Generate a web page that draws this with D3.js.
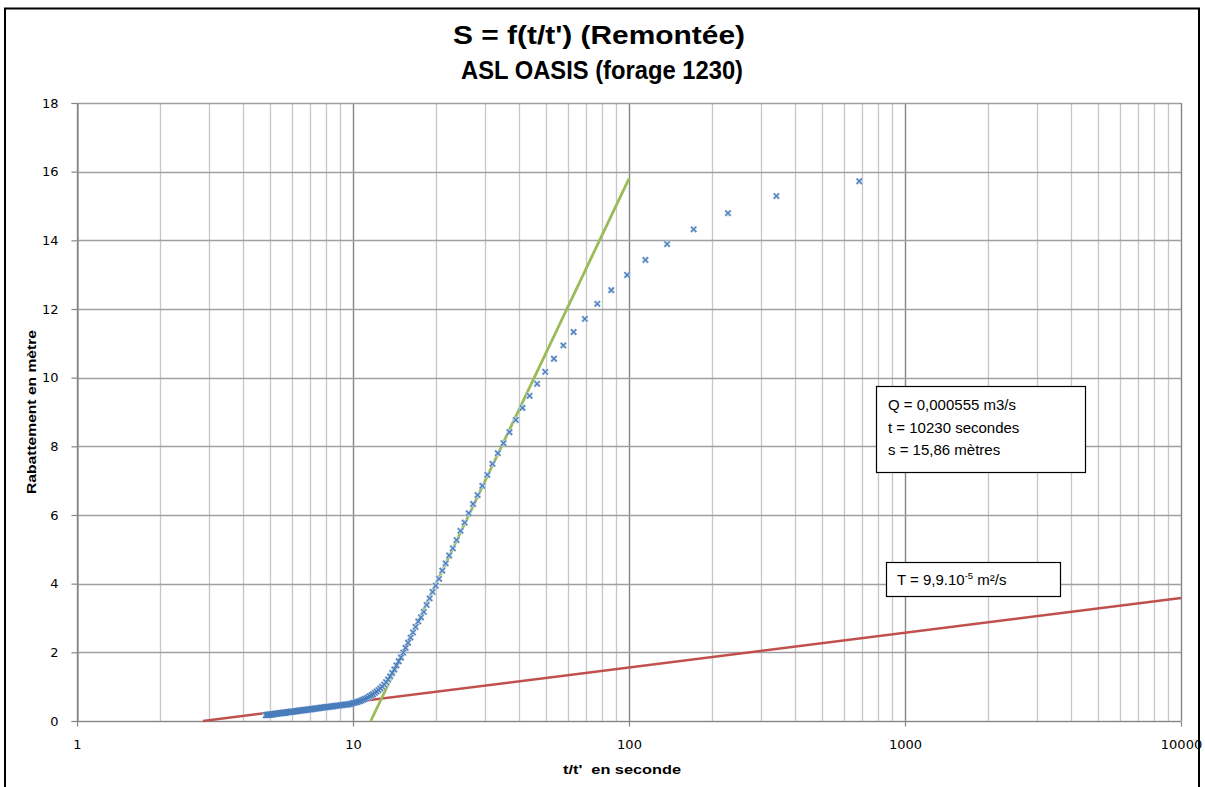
<!DOCTYPE html>
<html>
<head>
<meta charset="utf-8">
<script src="https://cdn.jsdelivr.net/npm/d3@7"></script>
<style>
  html, body { margin: 0; padding: 0; background: #fff; }
  svg { display: block; }
</style>
</head>
<body>
<svg id="chart" width="1205" height="787"></svg>
<script>
// ---------------- DATA ----------------
const titleLines = ["S = f(t/t') (Remontée)", "ASL OASIS (forage 1230)"];
const xAxisTitle = "t/t'  en seconde";
const yAxisTitle = "Rabattement en mètre";
const xTickValues = [1, 10, 100, 1000, 10000];
const xTickLabels = ["1", "10", "100", "1000", "10000"];
const yTickValues = [0, 2, 4, 6, 8, 10, 12, 14, 16, 18];

// t/t' ratio (x) and drawdown s in metres (y)
const tRatio = [
  683.00, 342.00, 228.33, 171.50, 137.40, 114.67, 98.43, 86.25, 76.78, 69.20,
  63.00, 57.83, 53.46, 49.71, 46.47, 43.63, 41.12, 38.89, 36.89, 35.10,
  33.48, 32.00, 30.65, 29.42, 28.28, 27.23, 26.26, 25.36, 24.52, 23.73,
  23.00, 22.31, 21.67, 21.06, 20.49, 19.94, 19.43, 18.95, 18.49, 18.05,
  17.63, 17.24, 16.86, 16.50, 16.16, 15.83, 15.51, 15.21, 14.92, 14.64,
  14.37, 14.12, 13.87, 13.63, 13.40, 13.18, 12.96, 12.76, 12.56, 12.37,
  12.18, 12.00, 11.83, 11.66, 11.49, 11.33, 11.18, 11.03, 10.88, 10.74,
  10.61, 10.47, 10.34, 10.22, 10.09, 9.97, 9.86, 9.74, 9.63, 9.53,
  9.42, 9.32, 9.22, 9.12, 9.02, 8.93, 8.84, 8.75, 8.66, 8.58,
  8.49, 8.41, 8.33, 8.26, 8.18, 8.10, 8.03, 7.96, 7.89, 7.82,
  7.75, 7.69, 7.62, 7.56, 7.50, 7.43, 7.37, 7.31, 7.26, 7.20,
  7.14, 7.09, 7.04, 6.98, 6.93, 6.88, 6.83, 6.78, 6.73, 6.68,
  6.64, 6.59, 6.54, 6.50, 6.46, 6.41, 6.37, 6.33, 6.29, 6.25,
  6.21, 6.17, 6.13, 6.09, 6.05, 6.01, 5.98, 5.94, 5.91, 5.87,
  5.84, 5.80, 5.77, 5.74, 5.70, 5.67, 5.64, 5.61, 5.58, 5.55,
  5.52, 5.49, 5.46, 5.43, 5.40, 5.37, 5.34, 5.32, 5.29, 5.26,
  5.24, 5.21, 5.18, 5.16, 5.13, 5.11, 5.08, 5.06, 5.04, 5.01,
  4.99, 4.97, 4.94, 4.92, 4.90, 4.88, 4.85, 4.83
];
const rabattement = [
  15.72, 15.29, 14.79, 14.32, 13.89, 13.43, 12.99, 12.55, 12.15, 11.71,
  11.33, 10.94, 10.55, 10.17, 9.82, 9.47, 9.12, 8.77, 8.41, 8.09,
  7.80, 7.49, 7.17, 6.85, 6.58, 6.32, 6.05, 5.78, 5.54, 5.27,
  5.03, 4.82, 4.59, 4.38, 4.14, 3.94, 3.76, 3.57, 3.38, 3.18,
  3.02, 2.90, 2.74, 2.58, 2.43, 2.28, 2.13, 1.99, 1.85, 1.74,
  1.62, 1.50, 1.40, 1.30, 1.21, 1.13, 1.06, 1.00, 0.95, 0.90,
  0.86, 0.82, 0.78, 0.75, 0.72, 0.69, 0.66, 0.64, 0.62, 0.60,
  0.58, 0.57, 0.55, 0.54, 0.53, 0.52, 0.50, 0.49, 0.49, 0.48,
  0.48, 0.47, 0.47, 0.46, 0.46, 0.45, 0.45, 0.45, 0.44, 0.44,
  0.43, 0.43, 0.42, 0.42, 0.41, 0.41, 0.41, 0.40, 0.40, 0.39,
  0.39, 0.39, 0.38, 0.38, 0.37, 0.37, 0.37, 0.36, 0.36, 0.36,
  0.35, 0.35, 0.34, 0.34, 0.34, 0.33, 0.33, 0.33, 0.32, 0.32,
  0.32, 0.31, 0.31, 0.31, 0.30, 0.30, 0.30, 0.30, 0.29, 0.29,
  0.29, 0.28, 0.28, 0.28, 0.27, 0.27, 0.27, 0.27, 0.26, 0.26,
  0.26, 0.26, 0.25, 0.25, 0.25, 0.24, 0.24, 0.24, 0.24, 0.23,
  0.23, 0.23, 0.23, 0.22, 0.22, 0.22, 0.22, 0.22, 0.21, 0.21,
  0.21, 0.21, 0.20, 0.20, 0.20, 0.20, 0.19, 0.19, 0.19, 0.19,
  0.19, 0.18, 0.18, 0.18, 0.18, 0.18, 0.17, 0.17
];

// fitted straight lines (semi-log)
const greenFitX = [11.6, 100];
const greenFitS = [0, 15.8];
const redFitX = [2.86, 10000];
const redFitS = [0, 3.58];

const infoLines = ["Q = 0,000555 m3/s", "t = 10230 secondes", "s = 15,86 mètres"];
const transLabel = { main: "T = 9,9.10", exp: "-5", tail: " m²/s" };

// ---------------- DRAWING ----------------
const svg = d3.select("#chart");
const W = 1205, H = 787;
const plot = { left: 77, right: 1181, top: 103, bottom: 721 };

const x = d3.scaleLog().domain([1, 10000]).range([plot.left, plot.right]);
const y = d3.scaleLinear().domain([0, 18]).range([plot.bottom, plot.top]);

svg.append("rect").attr("width", W).attr("height", H).attr("fill", "#fff");

// outer chart border
svg.append("rect")
  .attr("x", 5).attr("y", 8.5).attr("width", 1194).attr("height", 800)
  .attr("fill", "none").attr("stroke", "#000").attr("stroke-width", 2);

// title
const titleFont = "'Liberation Sans', Arial, sans-serif";
svg.append("text").attr("x", 599).attr("y", 44)
  .attr("text-anchor", "middle").attr("font-family", titleFont)
  .attr("font-weight", "bold").attr("font-size", 25.5)
  .attr("textLength", 292).attr("lengthAdjust", "spacingAndGlyphs")
  .attr("fill", "#000").text(titleLines[0]);
svg.append("text").attr("x", 602).attr("y", 79)
  .attr("text-anchor", "middle").attr("font-family", titleFont)
  .attr("font-weight", "bold").attr("font-size", 25.5)
  .attr("textLength", 282).attr("lengthAdjust", "spacingAndGlyphs")
  .attr("fill", "#000").text(titleLines[1]);

// gridlines
const gGrid = svg.append("g");
const vTicks = x.ticks(40);
vTicks.forEach(v => {
  const isMajor = Math.abs(Math.log10(v) - Math.round(Math.log10(v))) < 1e-9;
  gGrid.append("line")
    .attr("x1", Math.round(x(v)) + 0.5).attr("x2", Math.round(x(v)) + 0.5)
    .attr("y1", plot.top).attr("y2", plot.bottom)
    .attr("stroke", isMajor ? "#868686" : "#c6c6c6")
    .attr("stroke-width", isMajor ? 1.4 : 1.3);
});
yTickValues.forEach(v => {
  gGrid.append("line")
    .attr("x1", plot.left).attr("x2", plot.right)
    .attr("y1", Math.round(y(v)) + 0.5).attr("y2", Math.round(y(v)) + 0.5)
    .attr("stroke", "#a0a0a0").attr("stroke-width", 1.4);
});

// axes
const axisFont = "'DejaVu Sans', Verdana, sans-serif";
const yAxis = svg.append("g")
  .attr("transform", `translate(${plot.left + 0.5},0)`)
  .call(d3.axisLeft(y).tickValues(yTickValues).tickSize(6).tickPadding(13).tickFormat(d3.format("d")));
const xAxis = svg.append("g")
  .attr("transform", `translate(0,${plot.bottom + 0.5})`)
  .call(d3.axisBottom(x).tickValues(xTickValues).tickSize(5).tickPadding(13)
    .tickFormat((d, i) => xTickLabels[i]));
[yAxis, xAxis].forEach(g => {
  g.select(".domain").attr("stroke", "#868686").attr("stroke-width", 1.2);
  g.selectAll(".tick line").attr("stroke", "#868686").attr("stroke-width", 1.2);
  g.selectAll(".tick text").attr("font-family", axisFont).attr("font-size", 13).attr("fill", "#000");
});
xAxis.select(".domain").remove();
svg.append("line")
  .attr("x1", plot.left).attr("x2", plot.right)
  .attr("y1", plot.bottom + 0.5).attr("y2", plot.bottom + 0.5)
  .attr("stroke", "#868686").attr("stroke-width", 1.2);

// axis titles
svg.append("text")
  .attr("transform", `translate(36,412) rotate(-90)`)
  .attr("text-anchor", "middle").attr("font-family", titleFont)
  .attr("font-weight", "bold").attr("font-size", 13)
  .attr("textLength", 164).attr("lengthAdjust", "spacingAndGlyphs")
  .text(yAxisTitle);
svg.append("text")
  .attr("x", 622).attr("y", 774)
  .attr("text-anchor", "middle").attr("font-family", titleFont)
  .attr("font-weight", "bold").attr("font-size", 13)
  .attr("textLength", 118).attr("lengthAdjust", "spacingAndGlyphs")
  .attr("xml:space", "preserve")
  .text(xAxisTitle);

// fitted lines
const lineGen = d3.line().x(d => x(d[0])).y(d => y(d[1]));
svg.append("path")
  .datum(redFitX.map((v, i) => [v, redFitS[i]]))
  .attr("d", lineGen).attr("fill", "none")
  .attr("stroke", "#c0504d").attr("stroke-width", 2.5);
svg.append("path")
  .datum(greenFitX.map((v, i) => [v, greenFitS[i]]))
  .attr("d", lineGen).attr("fill", "none")
  .attr("stroke", "#9bbb59").attr("stroke-width", 2.8);

// markers (x) with a soft halo
const pts = tRatio.map((v, i) => [v, rabattement[i]]);
const r = 2.7;
const markPath = d => {
  const cx = x(d[0]), cy = y(d[1]);
  return `M${cx - r},${cy - r}L${cx + r},${cy + r}M${cx - r},${cy + r}L${cx + r},${cy - r}`;
};
svg.append("g").attr("stroke", "#c9d8ec").attr("stroke-width", 3).attr("fill", "none")
  .selectAll("path").data(pts).join("path").attr("d", markPath);
svg.append("g").attr("stroke", "#4a7ebb").attr("stroke-width", 1.3).attr("fill", "none")
  .selectAll("path").data(pts).join("path").attr("d", markPath);

// info box
const boxFont = "'Liberation Sans', Arial, sans-serif";
svg.append("rect").attr("x", 876.5).attr("y", 386.5).attr("width", 209).attr("height", 86)
  .attr("fill", "#fff").attr("stroke", "#000").attr("stroke-width", 1.2);
infoLines.forEach((t, i) => {
  svg.append("text").attr("x", 888).attr("y", 410 + i * 22.7)
    .attr("font-family", boxFont).attr("font-size", 15).attr("fill", "#000")
    .text(t);
});
svg.append("rect").attr("x", 886.5).attr("y", 562.5).attr("width", 174).attr("height", 34)
  .attr("fill", "#fff").attr("stroke", "#000").attr("stroke-width", 1.2);
const tT = svg.append("text").attr("x", 897).attr("y", 585)
  .attr("font-family", boxFont).attr("font-size", 15).attr("fill", "#000");
tT.append("tspan").text(transLabel.main);
tT.append("tspan").attr("font-size", 9.5).attr("dy", -6).text(transLabel.exp);
tT.append("tspan").attr("dy", 6).text(transLabel.tail);
</script>
</body>
</html>
